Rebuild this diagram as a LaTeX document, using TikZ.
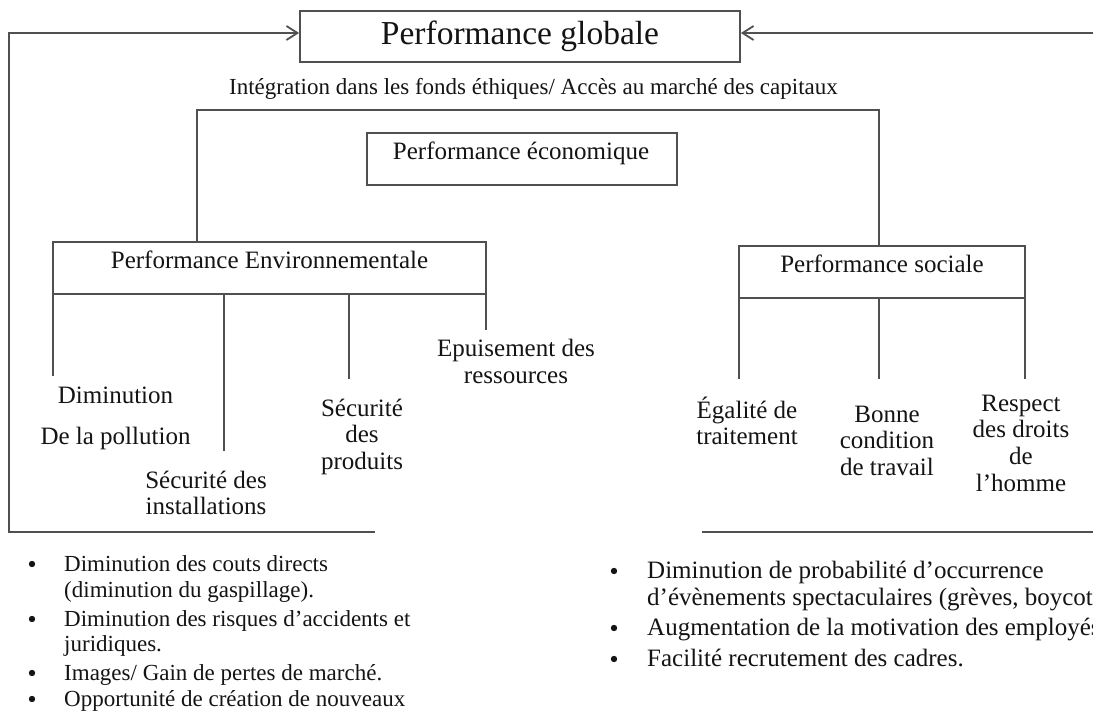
\documentclass[tikz,border=0pt]{standalone}
\usepackage{fontspec}
\setmainfont{Liberation Serif}
\usetikzlibrary{arrows.meta}
\definecolor{lineg}{RGB}{80,80,80}
\definecolor{txt}{RGB}{20,20,20}
\begin{document}
\begin{tikzpicture}[x=1pt,y=-1pt,
  ln/.style={draw=lineg,line width=1.8pt},
  arr/.style={ln,-{Straight Barb[length=11pt,width=14pt]}},
  boxst/.style={draw=lineg,line width=1.8pt,rectangle,inner sep=0pt},
  lbl/.style={inner sep=0pt,text=txt,align=center,anchor=base,font=\fontsize{25}{26.8}\selectfont},
  lst/.style={inner sep=0pt,text=txt,align=left,anchor=base west},
  bul/.style={circle,fill=txt,inner sep=0pt,minimum size=6.4pt}]
\useasboundingbox (0,0) rectangle (1093,711);
\clip (0,0) rectangle (1093,711);
\fill[white] (0,0) rectangle (1093,711);
% boxes
\node[boxst,minimum width=440pt,minimum height=51pt] (title) at (520,36.5) {};
\node[boxst,minimum width=310pt,minimum height=52pt] (econ) at (522,159) {};
\node[boxst,minimum width=433pt,minimum height=52pt] (env) at (269.5,268) {};
\node[boxst,minimum width=286pt,minimum height=52pt] (soc) at (882,272) {};
% box labels (anchor base = baseline of the last line)
\node[lbl,font=\fontsize{33.5}{36}\selectfont] (titlet) at (520,45) {Performance globale};
\node[lbl,font=\fontsize{23}{25}\selectfont] (integ) at (533.5,95) {Intégration dans les fonds éthiques/ Accès au marché des capitaux};
\node[lbl] (econt) at (521,160) {Performance économique};
\node[lbl] (envt) at (269.5,269) {Performance Environnementale};
\node[lbl] (soct) at (882,273) {Performance sociale};
% children labels
\node[lbl] (dim) at (115.5,444.3) {Diminution\\[14.5pt]De la pollution};
\node[lbl] (secinst) at (206,514.8) {Sécurité des\\installations};
\node[lbl] (secprod) at (362,469.6) {Sécurité\\des\\produits};
\node[lbl] (epuis) at (516,383.8) {Epuisement des\\ressources};
\node[lbl] (egal) at (747,444.8) {Égalité de\\traitement};
\node[lbl] (bonne) at (887,475.6) {Bonne\\condition\\de travail};
\node[lbl] (resp) at (1021,491.4) {Respect\\des droits\\de\\l’homme};
% stub ends
\coordinate (e1) at (53,376);
\coordinate (e2) at (224,451);
\coordinate (e3) at (349,379);
\coordinate (e4) at (486,330);
\coordinate (s1) at (739,379);
\coordinate (s2) at (879,379);
\coordinate (s3) at (1025,379);
\draw[ln] (env.south -| e1) -- (e1);
\draw[ln] (env.south -| e2) -- (e2);
\draw[ln] (env.south -| e3) -- (e3);
\draw[ln] (env.south -| e4) -- (e4);
\draw[ln] (soc.south -| s1) -- (s1);
\draw[ln] (soc.south -| s2) -- (s2);
\draw[ln] (soc.south -| s3) -- (s3);
% bracket
\coordinate (bl) at (197,110);
\coordinate (br) at (879,110);
\draw[ln] (env.north -| bl) -- (bl) -- (br) -- (soc.north -| br);
% feedback frame
\coordinate (ftl) at (9,33);
\coordinate (fbl) at (9,532);
\coordinate (fbe) at (375,532);
\coordinate (frt) at (1110,33);
\coordinate (frb) at (1110,532);
\coordinate (fbs) at (702,532);
\draw[arr] (fbe) -- (fbl) -- (ftl) -- (title.west |- ftl);
\draw[arr] (fbs) -- (frb) -- (frt) -- (title.east |- frt);
% left list
\node[lst,font=\fontsize{23}{26}\selectfont] (l1) at (64,597) {Diminution des couts directs\\(diminution du gaspillage).};
\node[lst,font=\fontsize{23}{25}\selectfont] (l2) at (64,651) {Diminution des risques d’accidents et\\juridiques.};
\node[lst,font=\fontsize{23}{25}\selectfont] (l3) at (64,680) {Images/ Gain de pertes de marché.};
\node[lst,font=\fontsize{23}{25}\selectfont] (l4) at (64,706) {Opportunité de création de nouveaux};
\node[bul] (b1) at (32,564) {};
\node[bul] (b2) at (32,619) {};
\node[bul] (b3) at (32,673) {};
\node[bul] (b4) at (32,699) {};
% right list
\node[lst,font=\fontsize{25}{27}\selectfont] (r1) at (647,605) {Diminution de probabilité d’occurrence\\d’évènements spectaculaires (grèves, boycotts).};
\node[lst,font=\fontsize{25}{27}\selectfont] (r2) at (647,635) {Augmentation de la motivation des employés.};
\node[lst,font=\fontsize{25}{27}\selectfont] (r3) at (647,666) {Facilité recrutement des cadres.};
\node[bul] (c1) at (614,571) {};
\node[bul] (c2) at (614,628) {};
\node[bul] (c3) at (614,659) {};
\end{tikzpicture}
\end{document}
